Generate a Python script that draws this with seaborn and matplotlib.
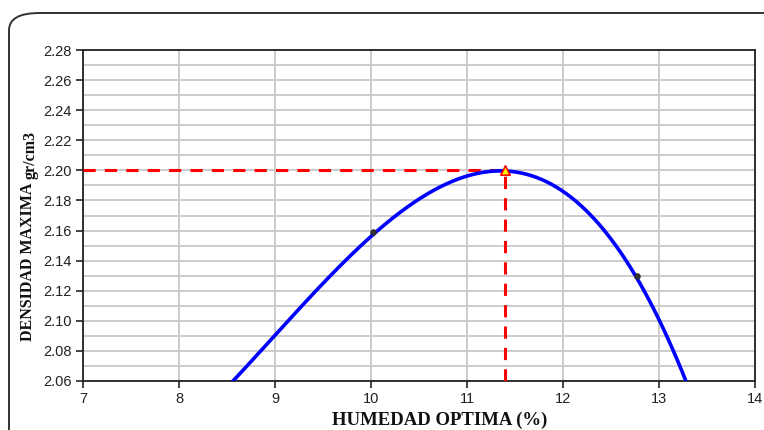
import numpy as np
import pandas as pd
import matplotlib
matplotlib.use("Agg")
import matplotlib.pyplot as plt
from matplotlib.patches import FancyBboxPatch
import seaborn as sns

# Proctor test: measured points and points along the compaction curve
humedad_ensayo = [10.02, 12.77]
densidad_ensayo = [2.159, 2.130]

humedad_curva = [8.566, 9.0, 9.865, 10.02, 11.40, 11.97, 12.76, 13.0, 13.27]
densidad_curva = [2.060, 2.0906, 2.147, 2.159, 2.1985, 2.187, 2.130, 2.1027, 2.060]

humedad_optima = 11.4
densidad_maxima = 2.20

x_ticks = [7, 8, 9, 10, 11, 12, 13, 14]
y_ticks = [2.06, 2.08, 2.10, 2.12, 2.14, 2.16, 2.18, 2.20, 2.22, 2.24, 2.26, 2.28]

sns.set_theme(style="white")
plt.rcParams["font.family"] = ["Liberation Sans", "DejaVu Sans"]

fig = plt.figure(figsize=(7.64, 4.30), dpi=100)
ax = fig.add_axes([83 / 764, 1 - 381 / 430, (755 - 83) / 764, (381 - 50) / 430])

# smooth polynomial trend through the curve readings
coef = np.polyfit(humedad_curva, densidad_curva, 3)
xs = np.linspace(8.4, 13.5, 300)
curva = pd.DataFrame({"humedad": xs, "densidad": np.polyval(coef, xs)})
sns.lineplot(data=curva, x="humedad", y="densidad", ax=ax, color="#0000ff",
             linewidth=2.6, zorder=4)

puntos = pd.DataFrame({"humedad": humedad_ensayo, "densidad": densidad_ensayo})
sns.scatterplot(data=puntos, x="humedad", y="densidad", ax=ax, color="#333333",
                s=16, edgecolor="#222222", linewidth=0.6, zorder=5)

# optimum moisture / maximum density guides
ax.plot([x_ticks[0], humedad_optima], [densidad_maxima, densidad_maxima],
        color="#ff0000", linestyle=(0, (4, 3)), linewidth=2.2, zorder=3)
ax.plot([humedad_optima, humedad_optima], [y_ticks[0], densidad_maxima],
        color="#ff0000", linestyle=(0, (4, 3)), linewidth=2.2, zorder=3)
ax.scatter([humedad_optima], [densidad_maxima], marker="^", s=45,
           facecolor="#ffff00", edgecolor="#ff0000", linewidth=1.2, zorder=6)

ax.set_xlim(x_ticks[0], x_ticks[-1])
ax.set_ylim(y_ticks[0], y_ticks[-1])
ax.set_xticks(x_ticks)
ax.set_xticklabels([str(t) for t in x_ticks])
ax.set_yticks(y_ticks)
ax.set_yticklabels([f"{t:.2f}" for t in y_ticks])
ax.set_yticks(np.arange(2.07, 2.28, 0.02), minor=True)

ax.grid(True, which="both", axis="y", color="#c8c8c8", linewidth=1.3, zorder=0)
ax.grid(True, which="major", axis="x", color="#c8c8c8", linewidth=1.3, zorder=0)
ax.set_axisbelow(True)

for s in ax.spines.values():
    s.set_color("#222222")
    s.set_linewidth(1.3)

ax.tick_params(axis="both", which="major", direction="out", length=5, width=1.2,
               color="#222222", labelsize=10.5, labelcolor="#222222", pad=3)
ax.tick_params(axis="y", which="minor", length=0)
ax.tick_params(axis="y", which="major", left=True)
ax.tick_params(axis="x", which="major", bottom=True)

ax.set_xlabel("")
ax.set_ylabel("")

serif = ["Liberation Serif", "DejaVu Serif"]
fig.text(440 / 764, 1 - 429 / 430, "HUMEDAD OPTIMA (%)", ha="center", va="bottom",
         fontsize=13.5, fontweight="bold", family=serif, color="#111111")
fig.text(28 / 764, 1 - 262 / 430, "DENSIDAD MAXIMA", ha="center", va="center",
         rotation=90, fontsize=11.5, fontweight="bold", family=serif, color="#111111")
fig.text(31 / 764, 1 - 155 / 430, "gr/cm3", ha="center", va="center",
         rotation=90, fontsize=11.5, fontweight="bold", family=serif, color="#111111")

# rounded chart frame (right and bottom sides run past the canvas edge)
frame = FancyBboxPatch((9 / 764, -0.2), 1.2, 1 - 13 / 430 + 0.2,
                       boxstyle="round,pad=0,rounding_size=0.04",
                       transform=fig.transFigure, fill=False,
                       edgecolor="#333333", linewidth=1.4, clip_on=False)
fig.patches.append(frame)

fig.savefig("out.png", dpi=100)
